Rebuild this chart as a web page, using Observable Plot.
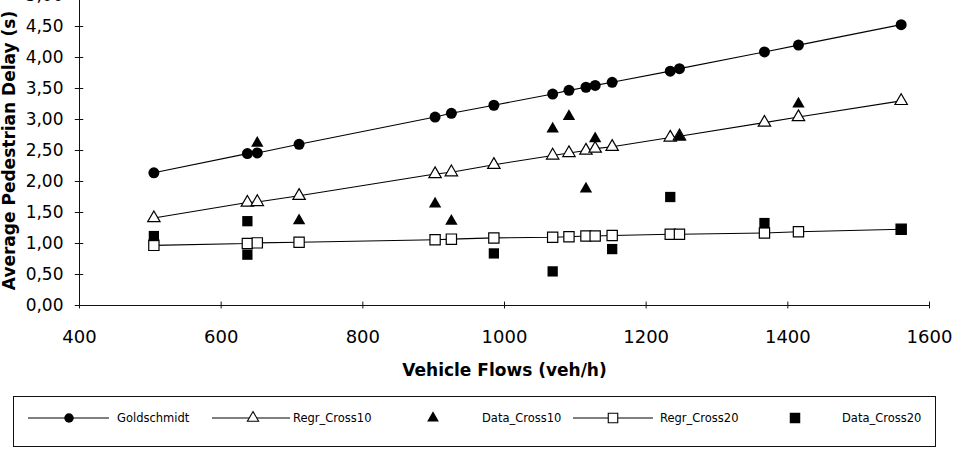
<!DOCTYPE html>
<html>
<head>
<meta charset="utf-8">
<script src="https://cdn.jsdelivr.net/npm/d3@7"></script>
<script src="https://cdn.jsdelivr.net/npm/@observablehq/plot@0.6"></script>
<style>
  html, body { margin: 0; background: #fff; }
  #chart { position: relative; width: 966px; height: 452px; overflow: hidden; font-family: "DejaVu Sans", sans-serif; }
  #chart svg { position: absolute; left: 0; }
</style>
</head>
<body>
<div id="chart"></div>
<script>
// Vehicle flow (veh/h) shared by the three model curves
const flows = [505, 637, 651, 710, 902, 925, 985, 1068, 1091, 1115, 1128, 1152, 1234, 1247, 1367, 1415, 1560];
const goldschmidt = [2.14, 2.45, 2.46, 2.60, 3.04, 3.10, 3.23, 3.41, 3.47, 3.52, 3.55, 3.60, 3.78, 3.82, 4.09, 4.20, 4.53];
const regrCross10 = [1.41, 1.66, 1.67, 1.77, 2.12, 2.15, 2.27, 2.42, 2.46, 2.50, 2.53, 2.56, 2.71, 2.73, 2.95, 3.04, 3.30];
const regrCross20 = [0.97, 1.00, 1.01, 1.02, 1.06, 1.07, 1.09, 1.10, 1.11, 1.12, 1.12, 1.13, 1.15, 1.15, 1.17, 1.19, 1.23];

// Observed delays
const dataCross10Flows = [651, 710, 902, 925, 1068, 1091, 1115, 1128, 1247, 1415];
const dataCross10 = [2.62, 1.37, 1.64, 1.36, 2.85, 3.05, 1.88, 2.69, 2.72, 3.25];
const dataCross20Flows = [505, 637, 637, 985, 1068, 1152, 1234, 1367, 1560];
const dataCross20 = [1.12, 1.36, 0.82, 0.84, 0.55, 0.91, 1.75, 1.33, 1.23];

const xTicks = [400, 600, 800, 1000, 1200, 1400, 1600];
const yTicks = [0, 0.5, 1, 1.5, 2, 2.5, 3, 3.5, 4, 4.5, 5];
const seriesNames = ["Goldschmidt", "Regr_Cross10", "Data_Cross10", "Regr_Cross20", "Data_Cross20"];

const rows = (xs, ys) => xs.map((f, i) => ({flow: f, delay: ys[i]}));
const gRows = rows(flows, goldschmidt);
const r10Rows = rows(flows, regrCross10);
const r20Rows = rows(flows, regrCross20);
const d10Rows = rows(dataCross10Flows, dataCross10);
const d20Rows = rows(dataCross20Flows, dataCross20);

const fmt = d => d.toFixed(2).replace(".", ",");

const plot = Plot.plot({
  width: 966,
  height: 400,
  marginTop: 5,
  marginLeft: 79,
  marginRight: 37,
  marginBottom: 85,
  style: {fontFamily: "DejaVu Sans, sans-serif", fontSize: "17px", color: "#000", background: "transparent"},
  x: {domain: [400, 1600]},
  y: {domain: [0, 5]},
  marks: [
    // axes
    Plot.ruleY([0], {stroke: "#111", strokeWidth: 1}),
    Plot.ruleX([400], {stroke: "#111", strokeWidth: 1}),
    Plot.ruleX(xTicks, {y1: -0.055, y2: 0.055, stroke: "#111", strokeWidth: 1}),
    Plot.ruleY(yTicks, {x1: 394, x2: 406, stroke: "#111", strokeWidth: 1}),
    Plot.axisX({ticks: xTicks, tickSize: 0, tickPadding: 25, tickFormat: d => String(d), label: null, fontSize: 18}),
    Plot.axisY({ticks: yTicks, tickSize: 0, tickPadding: 16, tickFormat: fmt, label: null, fontSize: 17}),
    Plot.text(["Vehicle Flows (veh/h)"], {frameAnchor: "bottom", dy: 70, fontWeight: "bold", fontSize: 17}),
    Plot.text(["Average Pedestrian Delay (s)"], {frameAnchor: "left", textAnchor: "middle", dx: -70, rotate: -90, fontWeight: "bold", fontSize: 17}),
    // model curves
    Plot.line(gRows, {x: "flow", y: "delay", stroke: "#000", strokeWidth: 1.1}),
    Plot.line(r10Rows, {x: "flow", y: "delay", stroke: "#000", strokeWidth: 1.1}),
    Plot.line(r20Rows, {x: "flow", y: "delay", stroke: "#000", strokeWidth: 1.1}),
    Plot.dot(gRows, {x: "flow", y: "delay", symbol: "circle", r: 5.5, fill: "#000"}),
    Plot.dot(r10Rows, {x: "flow", y: "delay", symbol: "triangle", r: 4.6, fill: "#fff", stroke: "#000", strokeWidth: 1.2}),
    Plot.dot(r20Rows, {x: "flow", y: "delay", symbol: "square", r: 5.8, fill: "#fff", stroke: "#000", strokeWidth: 1.2}),
    // observations
    Plot.dot(d10Rows, {x: "flow", y: "delay", symbol: "triangle", r: 4.6, fill: "#000"}),
    Plot.dot(d20Rows, {x: "flow", y: "delay", symbol: "square", r: 5.8, fill: "#000"})
  ]
});
plot.style.top = "-10px";
document.getElementById("chart").appendChild(plot);

// Legend box below the plot
const legendSpec = {
  Goldschmidt:  {line: [28, 109], mark: 69,  symbol: d3.symbolCircle,   size: 70,  fill: "#000", text: 117},
  Regr_Cross10: {line: [212, 290], mark: 253, symbol: d3.symbolTriangle, size: 55,  fill: "#fff", text: 293},
  Data_Cross10: {line: null,       mark: 433, symbol: d3.symbolTriangle, size: 60,  fill: "#000", text: 482},
  Regr_Cross20: {line: [573, 653], mark: 613, symbol: d3.symbolSquare,   size: 90,  fill: "#fff", text: 660},
  Data_Cross20: {line: null,       mark: 795, symbol: d3.symbolSquare,   size: 110, fill: "#000", text: 842}
};
const legend = d3.select("#chart").append("svg")
  .attr("width", 966).attr("height", 62)
  .style("top", "390px");
legend.append("rect")
  .attr("x", 13.5).attr("y", 6.5).attr("width", 922).attr("height", 50)
  .attr("fill", "none").attr("stroke", "#111").attr("stroke-width", 1);
const cy = 28;
seriesNames.forEach(name => {
  const s = legendSpec[name];
  const g = legend.append("g");
  if (s.line) {
    g.append("line").attr("x1", s.line[0]).attr("x2", s.line[1]).attr("y1", cy).attr("y2", cy)
      .attr("stroke", "#000").attr("stroke-width", 1);
  }
  g.append("path")
    .attr("d", d3.symbol(s.symbol, s.size)())
    .attr("transform", `translate(${s.mark},${cy})`)
    .attr("fill", s.fill)
    .attr("stroke", s.fill === "#fff" ? "#000" : "none")
    .attr("stroke-width", 1.1);
  g.append("text").attr("x", s.text).attr("y", cy).attr("dy", "0.35em")
    .attr("font-size", 11.5).attr("font-family", "DejaVu Sans, sans-serif")
    .text(name);
});
</script>
</body>
</html>
